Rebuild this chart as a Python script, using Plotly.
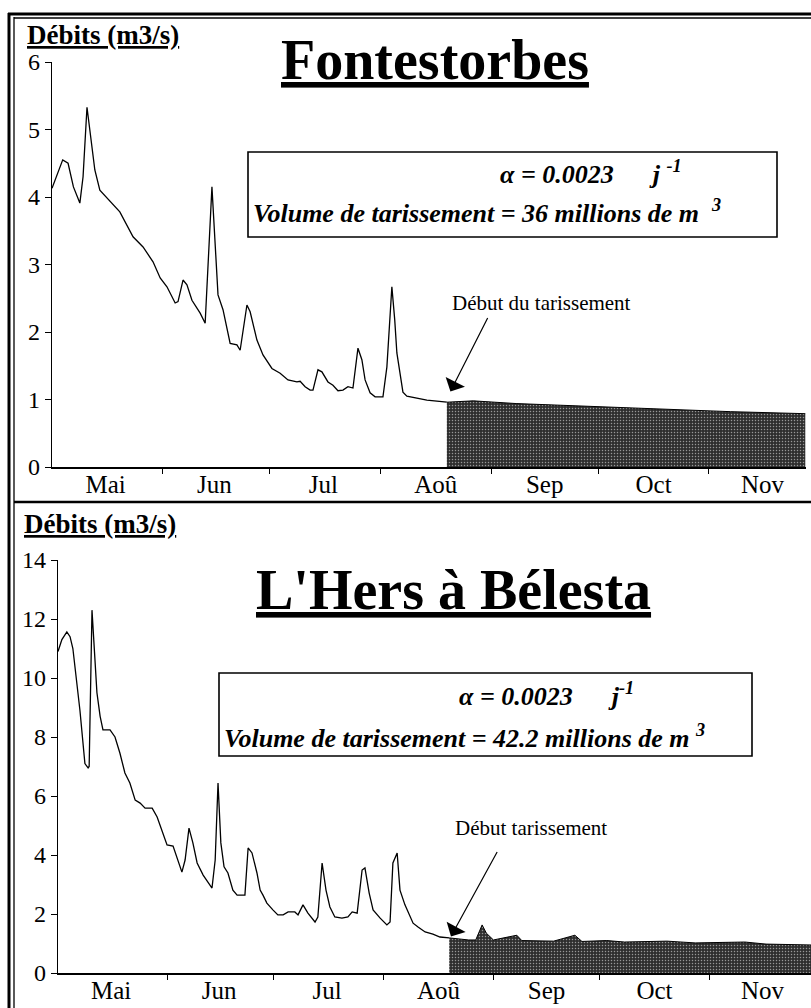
import plotly.graph_objects as go

# ---- Fontestorbes : débits journaliers (jours comptés depuis le 1er mai) ----
fon_days = [0, 1.5, 3, 4.5, 6, 7.8, 8.7, 9.8, 11, 12, 13.4, 17.1, 19, 22.7, 25.5, 28.3,
            30.3, 32.2, 34.5, 35.3, 36.7, 37.8, 39.2, 41.5, 42.9, 44.8, 45.7, 46.5, 47.9,
            49.9, 51.8, 52.7, 54.6, 55.5, 57.4, 59.1, 61.6, 63.9, 66.1, 68.6, 69.5, 70.9,
            72.3, 73.1, 74.5, 75.6, 77.3, 78.7, 80.1, 81.5, 82.9, 84.3, 85.7, 86.8, 87.7,
            89.1, 90.5, 92.7, 93.8, 95.2, 96.0, 96.6, 98.3, 99.4, 105, 110.6]
fon_q = [4.13, 4.35, 4.55, 4.50, 4.15, 3.91, 4.30, 5.33, 4.80, 4.40, 4.10, 3.88, 3.78, 3.41,
         3.26, 3.04, 2.80, 2.67, 2.43, 2.45, 2.77, 2.70, 2.47, 2.28, 2.13, 4.15, 3.26, 2.55,
         2.33, 1.83, 1.81, 1.73, 2.40, 2.30, 1.88, 1.66, 1.46, 1.39, 1.29, 1.26, 1.27, 1.19,
         1.14, 1.14, 1.44, 1.41, 1.26, 1.21, 1.13, 1.14, 1.19, 1.17, 1.76, 1.59, 1.29, 1.10,
         1.04, 1.04, 1.48, 2.67, 2.18, 1.69, 1.11, 1.05, 0.99, 0.96]
# tarissement
fon_rec_days = [110.6, 118, 130, 150, 170, 190, 211]
fon_rec_q = [0.96, 0.98, 0.94, 0.90, 0.86, 0.82, 0.79]

# ---- L'Hers à Bélesta ----
her_days = [0, 1.1, 2.5, 3.4, 4.2, 6.2, 7.6, 8.5, 8.8, 9.6, 11.0, 11.9, 12.7, 14.7, 16.1,
            17.5, 18.9, 20.3, 21.8, 23.2, 24.6, 26.6, 28.0, 29.4, 30.8, 32.5, 33.6, 35.0,
            35.9, 37.0, 38.1, 39.3, 41.0, 42.4, 43.5, 44.4, 45.2, 46.0, 46.9, 48.0, 49.4,
            50.6, 52.8, 53.7, 54.8, 56.2, 57.1, 57.9, 59.0, 60.7, 62.1, 63.6, 65.0, 66.9,
            67.8, 69.2, 70.6, 72.6, 73.4, 74.6, 75.7, 76.8, 78.2, 80.2, 81.9, 83.1, 84.5,
            85.9, 86.7, 87.9, 89.0, 91.0, 92.9, 93.8, 94.6, 95.8, 96.6, 98.0, 100.3, 101.7,
            103.7, 105.9, 107.9, 110.5]
her_q = [10.9, 11.3, 11.56, 11.4, 11.0, 8.9, 7.1, 6.95, 7.0, 12.3, 9.5, 8.7, 8.24, 8.24, 8.0,
         7.45, 6.78, 6.44, 5.86, 5.76, 5.59, 5.59, 5.29, 4.85, 4.34, 4.30, 3.93, 3.42, 3.83,
         4.91, 4.41, 3.73, 3.32, 3.08, 2.88, 3.83, 6.44, 4.41, 3.60, 3.39, 2.81, 2.64, 2.64,
         4.24, 4.07, 3.39, 2.81, 2.64, 2.37, 2.14, 1.97, 1.97, 2.07, 2.07, 1.97, 2.31, 2.03,
         1.73, 1.90, 3.73, 2.81, 2.24, 1.90, 1.86, 1.90, 2.07, 2.03, 3.49, 3.56, 2.71, 2.14,
         1.86, 1.63, 1.73, 3.73, 4.07, 2.81, 2.31, 1.69, 1.56, 1.39, 1.32, 1.22, 1.19]
her_rec_days = [110.5, 113, 116, 118, 119.8, 121, 123, 129.6, 131, 140, 146, 148, 155, 160,
                172, 180, 194, 200, 212.7]
her_rec_q = [1.19, 1.15, 1.12, 1.12, 1.63, 1.35, 1.12, 1.28, 1.10, 1.08, 1.28, 1.07, 1.10,
             1.05, 1.08, 1.02, 1.05, 0.98, 0.95]

# ---- axes ----
month_names = ["Mai", "Jun", "Jul", "Aoû", "Sep", "Oct", "Nov"]
month_mid = [15, 45.5, 76, 107.5, 138, 168.5, 199]
month_start = [31, 61, 92, 123, 153, 184]
fon_yticks = [0, 1, 2, 3, 4, 5, 6]
her_yticks = [0, 2, 4, 6, 8, 10, 12, 14]

W, H = 811, 1008
SERIF = "Liberation Serif, Times New Roman, serif"


def px(x):
    return x / W


def py(y):
    return 1 - y / H


pattern = dict(shape=".", fgcolor="white", bgcolor="#2e2e2e", size=3, solidity=0.2)

fig = go.Figure()
fig.add_trace(go.Scatter(x=fon_days, y=fon_q, mode="lines", line=dict(color="black", width=1.3),
                         xaxis="x", yaxis="y", hoverinfo="skip"))
fig.add_trace(go.Scatter(x=fon_rec_days, y=fon_rec_q, mode="lines", fill="tozeroy",
                         fillpattern=pattern, fillcolor="#2e2e2e", line=dict(color="black", width=1),
                         xaxis="x", yaxis="y", hoverinfo="skip"))
fig.add_trace(go.Scatter(x=her_days, y=her_q, mode="lines", line=dict(color="black", width=1.3),
                         xaxis="x2", yaxis="y2", hoverinfo="skip"))
fig.add_trace(go.Scatter(x=her_rec_days, y=her_rec_q, mode="lines", fill="tozeroy",
                         fillpattern=pattern, fillcolor="#2e2e2e", line=dict(color="black", width=1),
                         xaxis="x2", yaxis="y2", hoverinfo="skip"))


def xaxis_style(domain, rng, anchor):
    return dict(domain=domain, range=rng, anchor=anchor, tickmode="array", automargin=False,
                tickvals=month_mid, ticktext=month_names, ticks="", ticklabelstandoff=-6,
                showline=True, linecolor="black", linewidth=1.5, showgrid=False, zeroline=False,
                tickfont=dict(family=SERIF, size=25, color="black"),
                minor=dict(tickmode="array", tickvals=month_start, ticks="outside", ticklen=5,
                           tickwidth=1.2, tickcolor="black", showgrid=False))


def yaxis_style(domain, rng, vals, anchor):
    return dict(domain=domain, range=rng, anchor=anchor, tickmode="array", tickvals=vals,
                automargin=False, ticks="outside", ticklen=6, tickwidth=1.2, tickcolor="black",
                showline=True, linecolor="black", linewidth=1.3, showgrid=False, zeroline=False,
                tickfont=dict(family=SERIF, size=24, color="black"))


fig.update_layout(
    width=W, height=H, margin=dict(l=0, r=0, t=0, b=0, pad=0, autoexpand=False),
    paper_bgcolor="white", plot_bgcolor="white", showlegend=False,
    xaxis=xaxis_style([px(52), px(806)], [0, 211.2], "y"),
    yaxis=yaxis_style([py(467), py(62)], [0, 6], fon_yticks, "x"),
    xaxis2=xaxis_style([px(58), 1.0], [0, 212.7], "y2"),
    yaxis2=yaxis_style([py(973), py(560)], [0, 14], her_yticks, "x2"),
)


def label(text, x, y, size, xanchor="center"):
    return dict(text=text, x=px(x), y=py(y), xref="paper", yref="paper", xanchor=xanchor,
                yanchor="middle", showarrow=False, font=dict(family=SERIF, size=size, color="black"))


ann = [
    # titres
    label("<u><b>Fontestorbes</b></u>", 435, 60, 56),
    label("<u><b>L'Hers à Bélesta</b></u>", 453, 590, 56),
    # unités
    label("<u><b>Débits (m3/s)</b></u>", 25, 35, 27, xanchor="left"),
    label("<u><b>Débits (m3/s)</b></u>", 22, 524, 27, xanchor="left"),
    # encadrés
    label("<b><i>α = 0.0023      j <sup>-1</sup></i></b>", 498, 172, 26, xanchor="left"),
    label("<b><i>Volume de tarissement = 36 millions de m  <sup>3</sup></i></b>", 251, 211, 26,
          xanchor="left"),
    label("<b><i>α = 0.0023      j<sup>-1</sup></i></b>", 457, 694, 26, xanchor="left"),
    label("<b><i>Volume de tarissement = 42.2 millions de m <sup>3</sup></i></b>", 222, 736, 26,
          xanchor="left"),
    # début du tarissement
    label("Début du tarissement", 541, 303, 21),
    label("Début tarissement", 531, 828, 21),
    dict(text="", x=fon_rec_days[0] + 1, y=1.12, xref="x", yref="y", ax=38, ay=-75,
         showarrow=True, arrowhead=1, arrowsize=3, arrowwidth=1.2, arrowcolor="black"),
    dict(text="", x=her_rec_days[0] + 0.5, y=1.24, xref="x2", yref="y2", ax=47, ay=-86,
         showarrow=True, arrowhead=1, arrowsize=3, arrowwidth=1.2, arrowcolor="black"),
]
fig.update_layout(annotations=ann)

# cadres
shapes = [
    dict(type="rect", xref="paper", yref="paper", x0=px(248), x1=px(777), y0=py(152), y1=py(237),
         line=dict(color="black", width=1.6)),
    dict(type="rect", xref="paper", yref="paper", x0=px(219), x1=px(752), y0=py(673), y1=py(756),
         line=dict(color="black", width=1.6)),
    dict(type="line", xref="paper", yref="paper", x0=px(9), x1=px(9), y0=py(13), y1=0,
         line=dict(color="black", width=3)),
    dict(type="line", xref="paper", yref="paper", x0=px(14), x1=px(14), y0=py(17), y1=0,
         line=dict(color="black", width=1.3)),
    dict(type="line", xref="paper", yref="paper", x0=px(8), x1=1, y0=py(14), y1=py(14),
         line=dict(color="black", width=3)),
    dict(type="line", xref="paper", yref="paper", x0=px(14), x1=1, y0=py(18), y1=py(18),
         line=dict(color="black", width=1.3)),
    dict(type="line", xref="paper", yref="paper", x0=px(14), x1=1, y0=py(502), y1=py(502),
         line=dict(color="black", width=2.5)),
]
fig.update_layout(shapes=shapes)

fig.write_html("out.html")
